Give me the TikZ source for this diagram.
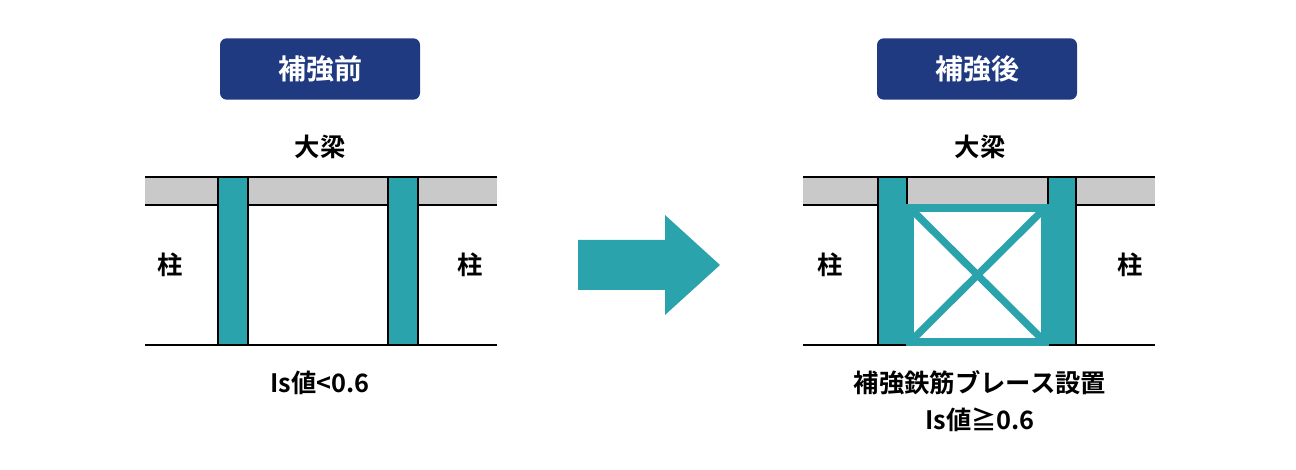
\documentclass[tikz,border=0pt]{standalone}
\usepackage{fontspec}
\setmainfont{Noto Sans CJK JP}[BoldFont={Noto Sans CJK JP Bold}]
\usepackage{xcolor}
\definecolor{teal1}{HTML}{2AA3AD}
\definecolor{navy1}{HTML}{1F3A80}
\definecolor{beamgray}{HTML}{C9C9C9}
\tikzset{
  tag/.style={fill=navy1, rounded corners=5pt, text=white, font=\bfseries\fontsize{21}{21}\selectfont, minimum width=150pt, minimum height=46pt},
  lbl/.style={font=\bfseries\fontsize{19}{19}\selectfont, inner sep=0.75pt},
  col/.style={fill=teal1, draw=black, line width=1pt},
  brace/.style={draw=teal1, line width=5.5pt},
}
\begin{document}
\begin{tikzpicture}[x=0.75pt,y=0.75pt,yscale=-1,xscale=1]
\useasboundingbox (0,0) rectangle (1296,470);

% titles
\node[tag] (before) at (320,69) {補強前};
\node[tag] (after) at (977,69) {補強後};

% left frame: beam, columns, ground
\fill[beamgray] (145,177) rectangle (497,205);
\draw[line width=1.2pt] (145,177) -- (497,177) (145,205) -- (497,205);
\draw[col] (218,177) rectangle (248,345);
\draw[col] (388,177) rectangle (418,345);
\draw[line width=1.5pt] (145,345) -- (497,345);
\node[lbl] (beamL) at (320,147) {大梁};
\node[lbl] (colL1) at (170,265) {柱};
\node[lbl] (colL2) at (470,265) {柱};
\node[lbl] (isL) at (320,383) {Is値<0.6};

% arrow
\fill[teal1] (578,240) -- (665,240) -- (665,215) -- (720,265) -- (665,315) -- (665,290) -- (578,290) -- cycle;

% right frame: beam, columns, brace, ground
\fill[beamgray] (803,177) rectangle (1155,205);
\draw[line width=1.2pt] (803,177) -- (1155,177) (803,205) -- (1155,205);
\draw[line width=1.5pt] (803,345) -- (1155,345);
\draw[col] (878,177) rectangle (907,345);
\draw[col] (1048,177) rectangle (1076,345);
\draw[brace] (910,208) rectangle (1045,342);
\draw[brace] (910,208) -- (1045,342) (1045,208) -- (910,342);
\node[lbl] (beamR) at (980,147) {大梁};
\node[lbl] (colR1) at (830,265) {柱};
\node[lbl] (colR2) at (1130,265) {柱};
\node[lbl] (braceR) at (980,383) {補強鉄筋ブレース設置};
\node[lbl] (isR) at (980,420) {Is値≧0.6};
\end{tikzpicture}
\end{document}
